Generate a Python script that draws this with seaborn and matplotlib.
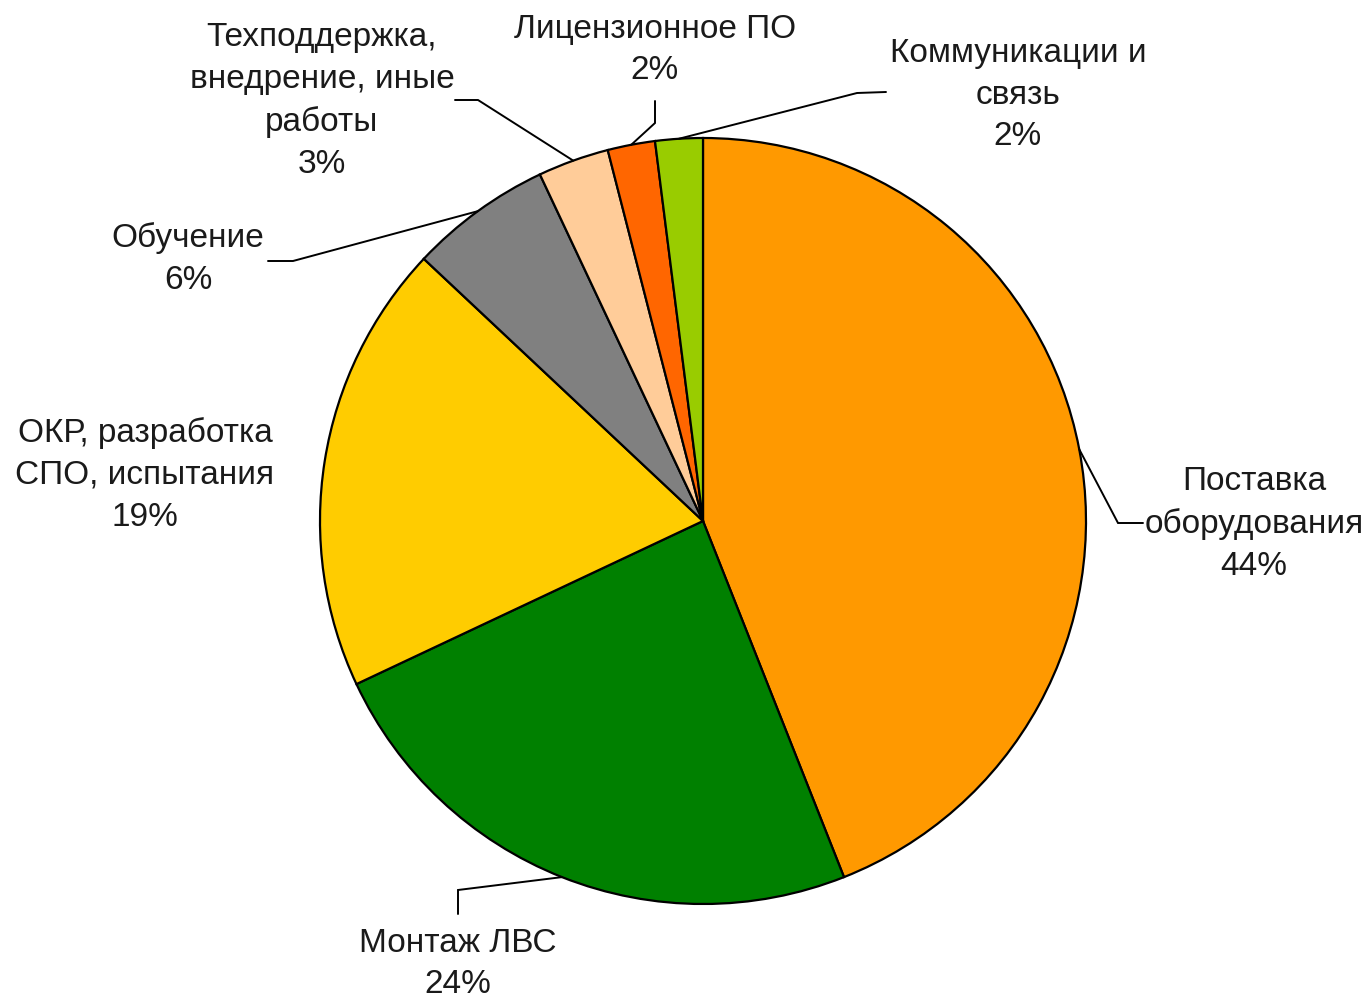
import numpy as np
import matplotlib
matplotlib.use("Agg")
import matplotlib.pyplot as plt
import seaborn as sns

# ---- data ----
categories = [
    "Поставка\nоборудования",
    "Монтаж ЛВС",
    "ОКР, разработка\nСПО, испытания",
    "Обучение",
    "Техподдержка,\nвнедрение, иные\nработы",
    "Лицензионное ПО",
    "Коммуникации и\nсвязь",
]
shares = [44, 24, 19, 6, 3, 2, 2]
colors = ["#FF9900", "#008000", "#FFCC00", "#808080", "#FFCC99", "#FF6600", "#99CC00"]

# ---- layout (image pixel coordinates, y downward) ----
W, H = 1370, 1000
center_px = (703, 521)
radius_px = 383
label_pos = [(1254, 524), (458, 964), (145, 475), (188, 259), (322, 101), (655, 50), (1018, 95)]
# leader lines: list of (elbow, end) or None
leaders = [
    ((1118, 523), (1143, 523)),
    ((458, 890), (458, 914)),
    None,
    ((293, 261), (268, 261)),
    ((478, 100), (455, 100)),
    ((655, 123), (655, 101)),
    ((857, 93), (886, 92)),
]

sns.set_theme(style="white")
plt.rcParams["font.family"] = ["Liberation Sans", "DejaVu Sans"]

fig = plt.figure(figsize=(W / 100, H / 100), dpi=100)
ax = fig.add_axes([0, 0, 1, 1])

cx, cy = center_px[0], H - center_px[1]
pal = sns.color_palette(colors)
wedges, _ = ax.pie(
    shares,
    colors=pal,
    startangle=90,
    counterclock=False,
    center=(cx, cy),
    radius=radius_px,
    wedgeprops=dict(edgecolor="black", linewidth=1.6),
    frame=True,
)
ax.set_xlim(0, W)
ax.set_ylim(0, H)
ax.set_aspect("equal")
ax.axis("off")

total = sum(shares)
cum = 0
for i, (cat, v) in enumerate(zip(categories, shares)):
    mid = 90 - (cum + v / 2) / total * 360
    cum += v
    ex = cx + radius_px * np.cos(np.radians(mid))
    ey = cy + radius_px * np.sin(np.radians(mid))
    lx, ly = label_pos[i]
    ax.text(lx, H - ly, f"{cat}\n{round(v / total * 100)}%", ha="center", va="center",
            fontsize=24, color="#1a1a1a", linespacing=1.45)
    if leaders[i] is not None:
        (bx, by), (tx, ty) = leaders[i]
        ax.plot([ex, bx, tx], [ey, H - by, H - ty], color="black", lw=1.4,
                solid_joinstyle="miter")

fig.savefig("out.png", dpi=100, facecolor="white")
